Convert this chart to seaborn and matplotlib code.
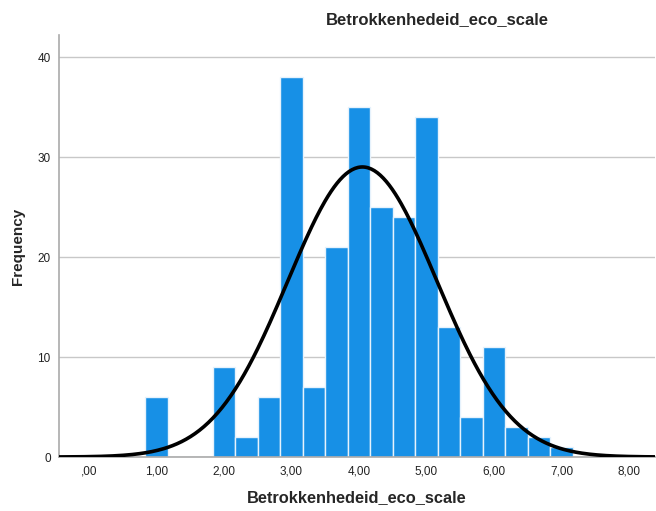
import numpy as np
import pandas as pd
import matplotlib
matplotlib.use("Agg")
import matplotlib.pyplot as plt
import seaborn as sns

# Data (bin centers, bin width 1/3)
bin_centers = [1.0, 2.0, 2.3333, 2.6667, 3.0, 3.3333, 3.6667, 4.0, 4.3333,
               4.6667, 5.0, 5.3333, 5.6667, 6.0, 6.3333, 6.6667, 7.0]
counts = [6, 9, 2, 6, 38, 7, 21, 35, 25, 24, 34, 13, 4, 11, 3, 2, 1]
bin_width = 1 / 3
fit_mean = 4.05
fit_sd = 1.105
x_ticks = [0, 1, 2, 3, 4, 5, 6, 7, 8]
x_tick_labels = [",00", "1,00", "2,00", "3,00", "4,00", "5,00", "6,00", "7,00", "8,00"]
y_ticks = [0, 10, 20, 30, 40]
title = "Betrokkenhedeid_eco_scale"
x_label = "Betrokkenhedeid_eco_scale"
y_label = "Frequency"

sns.set_style("white")
plt.rcParams['font.family'] = ['Liberation Sans', 'DejaVu Sans']

fig = plt.figure(figsize=(6.56, 5.11), dpi=100)
ax = fig.add_axes([59/656, 1 - 457/511, (656 - 59)/656 - 0.001, (457 - 35)/511])

df = pd.DataFrame({"value": bin_centers, "count": counts})
sns.histplot(data=df, x="value", weights="count", binwidth=bin_width,
             binrange=(min(bin_centers) - bin_width/2, max(bin_centers) + bin_width/2),
             color="#1790E6", alpha=1, edgecolor="#e6f2fc", linewidth=1.0, ax=ax, zorder=2)

xlim = (-0.444, 8.39)
xs = np.linspace(xlim[0], xlim[1], 400)
N = sum(counts)
ys = N * bin_width / (fit_sd * np.sqrt(2 * np.pi)) * np.exp(-0.5 * ((xs - fit_mean) / fit_sd) ** 2)
sns.lineplot(x=xs, y=ys, color="black", linewidth=2.6, ax=ax, zorder=3)

ax.set_xlim(*xlim)
ax.set_ylim(0, 42.2)
ax.set_xticks(x_ticks)
ax.set_xticklabels(x_tick_labels, fontsize=8.5, color="#222222")
ax.set_yticks(y_ticks)
ax.set_yticklabels([str(v) for v in y_ticks], fontsize=8.5, color="#222222")
ax.tick_params(axis="both", length=0)
ax.tick_params(axis="x", pad=6)
ax.tick_params(axis="y", pad=6)
ax.yaxis.grid(True, color="#c8c8c8", linewidth=1.0, zorder=0)
ax.set_axisbelow(True)
for s in ["top", "right"]:
    ax.spines[s].set_visible(False)
for s in ["left", "bottom"]:
    ax.spines[s].set_color("#aaaaaa")
    ax.spines[s].set_linewidth(1.2)

ax.set_xlabel(x_label, fontsize=11.8, fontweight="bold", labelpad=9)
ax.set_ylabel(y_label, fontsize=11, fontweight="bold", labelpad=9)
fig.text(437/656, 1 - 20/511, title, fontsize=12, fontweight="bold",
         ha="center", va="center")

fig.savefig("out.png", dpi=100)
